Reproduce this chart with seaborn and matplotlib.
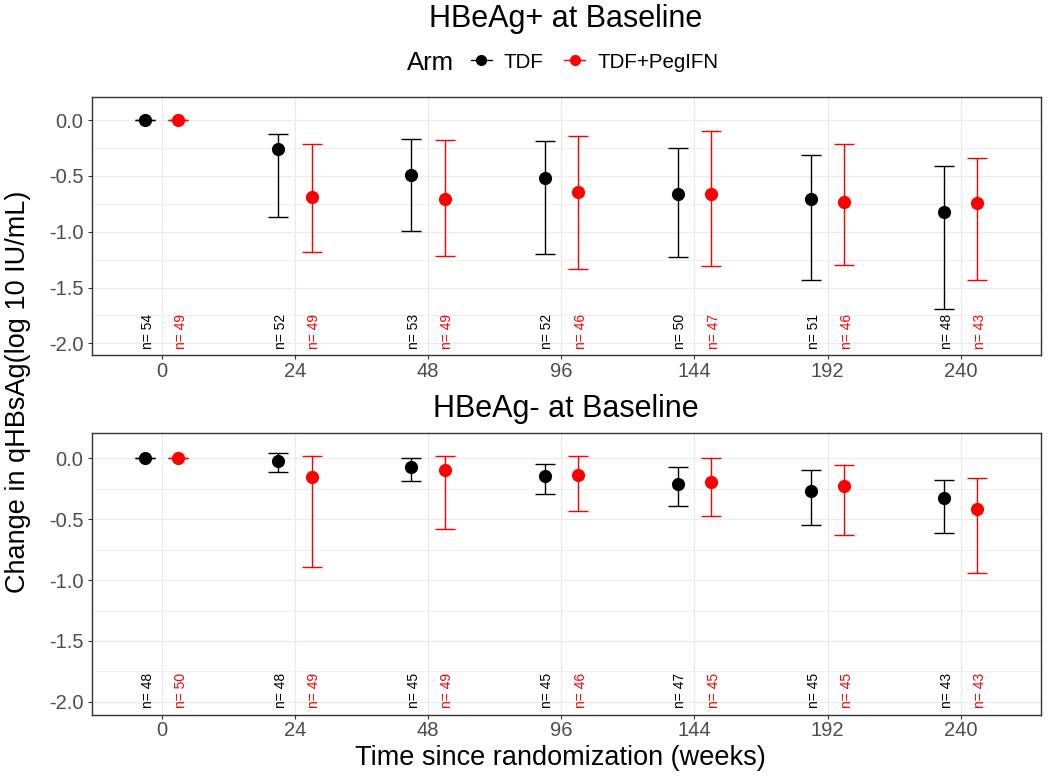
import numpy as np
import pandas as pd
import matplotlib
matplotlib.use("Agg")
import matplotlib.pyplot as plt
from matplotlib.lines import Line2D
from matplotlib.ticker import MultipleLocator, FormatStrFormatter
import seaborn as sns

# ---------------- data ----------------
weeks = ['0', '24', '48', '96', '144', '192', '240']
arms = ['TDF', 'TDF+PegIFN']
arm_colors = ['#000000', '#FF0000']

# HBeAg+ at baseline
pos_tdf_mean = [0.0, -0.26, -0.49, -0.52, -0.66, -0.71, -0.82]
pos_tdf_lo = [0.0, -0.865, -0.99, -1.20, -1.23, -1.43, -1.69]
pos_tdf_hi = [0.0, -0.12, -0.17, -0.19, -0.25, -0.31, -0.41]
pos_peg_mean = [0.0, -0.69, -0.71, -0.64, -0.665, -0.73, -0.74]
pos_peg_lo = [0.0, -1.18, -1.215, -1.33, -1.31, -1.30, -1.43]
pos_peg_hi = [0.0, -0.21, -0.18, -0.145, -0.10, -0.21, -0.34]
pos_tdf_n = [54, 52, 53, 52, 50, 51, 48]
pos_peg_n = [49, 49, 49, 46, 47, 46, 43]

# HBeAg- at baseline
neg_tdf_mean = [0.0, -0.02, -0.07, -0.145, -0.21, -0.265, -0.325]
neg_tdf_lo = [0.0, -0.11, -0.19, -0.295, -0.39, -0.55, -0.61]
neg_tdf_hi = [0.0, 0.045, 0.005, -0.05, -0.075, -0.10, -0.175]
neg_peg_mean = [0.0, -0.15, -0.095, -0.135, -0.195, -0.225, -0.415]
neg_peg_lo = [0.0, -0.895, -0.58, -0.435, -0.47, -0.63, -0.945]
neg_peg_hi = [0.0, 0.015, 0.02, 0.015, 0.0, -0.055, -0.16]
neg_tdf_n = [48, 48, 45, 45, 47, 45, 43]
neg_peg_n = [50, 49, 49, 46, 45, 45, 43]

panel_titles = ['HBeAg+ at Baseline', 'HBeAg- at Baseline']
y_ticks = [0.0, -0.5, -1.0, -1.5, -2.0]
n_label_y = -2.05


def make_df(tm, tl, th, tn, pm, pl, ph, pn):
    rows = []
    for arm, m, lo, hi, n in [(arms[0], tm, tl, th, tn), (arms[1], pm, pl, ph, pn)]:
        for w, a, b, c, k in zip(weeks, m, lo, hi, n):
            rows.append(dict(week=w, arm=arm, mean=a, lo=b, hi=c, n=k))
    return pd.DataFrame(rows)


dfs = [
    make_df(pos_tdf_mean, pos_tdf_lo, pos_tdf_hi, pos_tdf_n,
            pos_peg_mean, pos_peg_lo, pos_peg_hi, pos_peg_n),
    make_df(neg_tdf_mean, neg_tdf_lo, neg_tdf_hi, neg_tdf_n,
            neg_peg_mean, neg_peg_lo, neg_peg_hi, neg_peg_n),
]

# ---------------- style ----------------
sns.set_style("white")
plt.rcParams['font.family'] = ['Liberation Sans', 'DejaVu Sans']
plt.rcParams['axes.unicode_minus'] = False
plt.rcParams['text.color'] = 'black'

W, H = 1050, 779
fig = plt.figure(figsize=(W / 100, H / 100), dpi=100)

# axes rectangles in pixels: (left, top, right, bottom)
rects = [(92, 97.3, 1040.7, 355), (92, 433.3, 1040.7, 714.7)]
DODGE = 0.25
offsets = [-DODGE / 2, DODGE / 2]
palette = dict(zip(arms, arm_colors))

for i, (df, (l, t, r, b)) in enumerate(zip(dfs, rects)):
    ax = fig.add_axes([l / W, 1 - b / H, (r - l) / W, (b - t) / H])
    ax.set_axisbelow(True)

    # error bars and n labels
    for arm, off, col in zip(arms, offsets, arm_colors):
        sub = df[df.arm == arm]
        xs = np.array([weeks.index(w) for w in sub.week]) + off
        m = sub['mean'].to_numpy()
        yerr = np.vstack([m - sub['lo'].to_numpy(), sub['hi'].to_numpy() - m])
        ax.errorbar(xs, m, yerr=yerr, fmt='none', ecolor=col, elinewidth=1.0,
                    capsize=7.5, capthick=1.0, zorder=2)
        for x, n in zip(xs, sub['n']):
            ax.text(x + 0.02, n_label_y, f"n= {n}", rotation=90, ha='center',
                    va='bottom', fontsize=10, color=col, zorder=3)

    sns.pointplot(data=df, x='week', y='mean', hue='arm', order=weeks,
                  hue_order=arms, palette=palette, errorbar=None, dodge=DODGE,
                  linestyle='none', markers='o', markersize=9.5,
                  markeredgewidth=0, legend=False, ax=ax, zorder=4)

    ax.set_xlim(-0.524, 6.6)
    ax.set_ylim(-2.105, 0.205)
    ax.yaxis.set_major_locator(MultipleLocator(0.5))
    ax.yaxis.set_minor_locator(MultipleLocator(0.25))
    ax.yaxis.set_major_formatter(FormatStrFormatter('%.1f'))
    ax.set_yticks(y_ticks)
    ax.grid(True, which='major', color='#EBEBEB', linewidth=0.9)
    ax.grid(True, which='minor', axis='y', color='#EBEBEB', linewidth=0.55)
    ax.set_xlabel('')
    ax.set_ylabel('')
    for s in ax.spines.values():
        s.set_visible(True)
        s.set_color('#333333')
        s.set_linewidth(1.0)
    ax.tick_params(axis='both', which='major', length=3.2, width=0.8,
                   color='#333333', labelcolor='#4D4D4D', labelsize=14.5,
                   direction='out', bottom=True, left=True)
    ax.tick_params(axis='x', pad=1.5)
    ax.tick_params(axis='y', pad=3)
    ax.tick_params(which='minor', length=0)

# titles
fig.text(566 / W, 1 - 27 / H, panel_titles[0], ha='center', va='baseline',
         fontsize=22, color='black')
fig.text(566 / W, 1 - 417 / H, panel_titles[1], ha='center', va='baseline',
         fontsize=22, color='black')

# axis titles
fig.text(560 / W, 1 - 765 / H, 'Time since randomization (weeks)', ha='center',
         va='baseline', fontsize=19.5, color='black')
fig.text(18 / W, 1 - 392 / H, 'Change in qHBsAg(log 10 IU/mL)', ha='center',
         va='center', rotation=90, fontsize=19.5, color='black')

# legend
fig.text(407 / W, 1 - 63 / H, 'Arm', ha='left', va='center', fontsize=18.5,
         color='black')
handles = [Line2D([0], [0], color=c, marker='o', markersize=8, markeredgewidth=0,
                  linewidth=1.0) for c in arm_colors]
leg = fig.legend(handles, arms, loc='center left',
                 bbox_to_anchor=(471 / W, 1 - 62 / H),
                 ncol=2, frameon=False, fontsize=14.8, handlelength=1.0,
                 handletextpad=0.6, columnspacing=1.0, borderpad=0,
                 borderaxespad=0)
for txt in leg.get_texts():
    txt.set_color('black')

fig.savefig('out.png', dpi=100)
